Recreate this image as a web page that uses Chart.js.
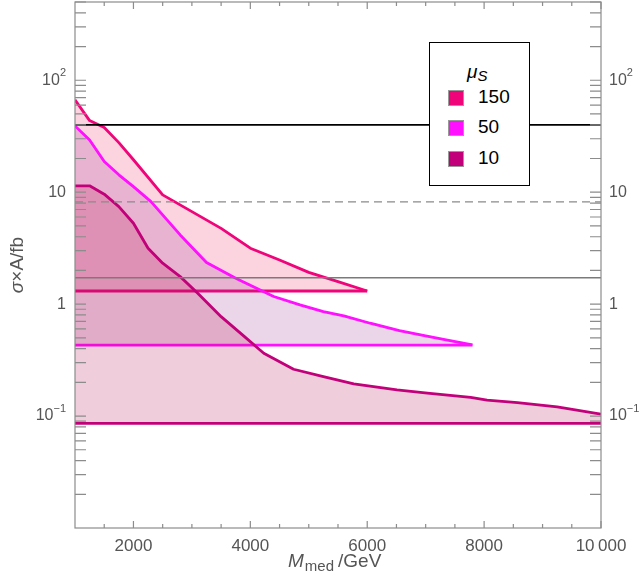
<!DOCTYPE html>
<html>
<head>
<meta charset="utf-8">
<script src="https://cdn.jsdelivr.net/npm/chart.js@4.4.1/dist/chart.umd.min.js"></script>
<style>
  body { margin: 0; background: #fff; }
  #wrap { position: relative; width: 642px; height: 584px; }
  #legend {
    position: absolute; left: 429px; top: 42px; width: 99px; height: 142px;
    border: 1.5px solid #000; background: #fff;
    font-family: "Liberation Sans", Arial, sans-serif; color: #000;
  }
  #legend .title { position: absolute; left: 37px; top: 18px; font-size: 19px; font-style: italic; }
  #legend .title sub { font-size: 15px; vertical-align: -3px; }
  #legend .row { position: absolute; left: 18px; height: 16px; }
  #legend .sw { position: absolute; left: 0; top: 0; width: 14px; height: 14px; border: 1px solid #999; }
  #legend .lab { position: absolute; left: 30px; top: -4px; font-size: 19px; line-height: 22px; }
</style>
</head>
<body>
<div id="wrap">
  <canvas id="myChart" width="642" height="584"></canvas>
  <div id="legend"><div class="title">μ<sub>S</sub></div></div>
</div>
<script>
// mu_S = 150
const mass150 = [1000, 1250, 1500, 1750, 2000, 2500, 3000, 3500, 4000, 4500, 5000, 5500, 6000];
const sigma150 = [66.8, 43.6, 37.8, 27.7, 19.5, 9.46, 6.7, 4.75, 3.16, 2.48, 1.92, 1.59, 1.31];
// mu_S = 50
const mass50 = [1000, 1250, 1500, 1750, 2000, 2300, 2800, 3250, 3750, 4400, 4850, 5250, 5600, 6050, 6550, 7000, 7350, 7800];
const sigma50 = [39.1, 29.3, 18.8, 14.3, 11.2, 8.24, 4.15, 2.35, 1.70, 1.17, 0.984, 0.857, 0.784, 0.675, 0.580, 0.520, 0.479, 0.432];
// mu_S = 10
const mass10 = [1000, 1250, 1500, 1750, 2000, 2250, 2500, 2800, 3100, 3500, 3900, 4230, 4740, 5250, 5770, 6510, 7030, 7770, 8050, 8570, 9250, 10000];
const sigma10 = [11.4, 11.4, 9.6, 7.44, 5.28, 3.16, 2.32, 1.76, 1.25, 0.773, 0.513, 0.364, 0.262, 0.225, 0.194, 0.171, 0.160, 0.147, 0.139, 0.132, 0.121, 0.104];

const seriesLabels = ['150', '50', '10'];
const baseValues = [1.31, 0.43, 0.086];     // flat lower edge of each band
const lineColors = ['#f0047a', '#ff10ff', '#c2007a'];
const fillColors = ['rgba(235,40,100,0.2)', 'rgba(155,45,140,0.2)', 'rgba(180,5,70,0.2)'];

// horizontal reference lines
const refValues = [40, 8.2, 1.72];
const refColors = ['#000000', '#8a8a8a', '#7a7a7a'];
const refDash = [[], [8, 5], []];

const xMin = 1000, xMax = 10000;
const yMin = 0.01, yMax = 500;
const xTickVals = [2000, 4000, 6000, 8000, 10000];
const xTickLabels = ['2000', '4000', '6000', '8000', '10\u2009000'];
const xMinorVals = [1500, 2500, 3000, 3500, 4500, 5000, 5500, 6500, 7000, 7500, 8500, 9000, 9500];
const yTickVals = [0.1, 1, 10, 100];
const yTickLabels = [['10', '\u22121'], ['1', ''], ['10', ''], ['10', '2']];

const yMinorVals = [];
[0.01, 0.1, 1, 10, 100].forEach(d => {
    for (let k = 2; k <= 9; k++) {
        if (d * k <= yMax) yMinorVals.push(d * k);
    }
});

function toPoints(xs, ys) {
    return xs.map((x, i) => ({ x: x, y: ys[i] }));
}

const curves = [toPoints(mass150, sigma150), toPoints(mass50, sigma50), toPoints(mass10, sigma10)];

// build datasets; index 0 is drawn last (on top)
const datasets = [];
refValues.forEach((v, i) => {
    datasets.push({
        data: [{ x: xMin, y: v }, { x: xMax, y: v }],
        borderColor: refColors[i],
        borderWidth: i === 0 ? 1.8 : 1.4,
        borderDash: refDash[i],
        fill: false
    });
});
for (let i = seriesLabels.length - 1; i >= 0; i--) {
    const pts = curves[i];
    datasets.push({
        data: [{ x: xMin, y: baseValues[i] }, { x: pts[pts.length - 1].x, y: baseValues[i] }],
        borderColor: lineColors[i],
        borderWidth: 2.8,
        fill: false
    });
    datasets.push({
        data: pts,
        borderColor: lineColors[i],
        backgroundColor: fillColors[i],
        borderWidth: 2.8,
        fill: { value: baseValues[i] }
    });
}

const font = '"Liberation Sans", Arial, sans-serif';
const labelColor = '#555';

const frameTicks = {
    id: 'frameTicks',
    afterDraw(chart) {
        const { ctx, chartArea: a, scales } = chart;
        const x = scales.x, y = scales.y;
        ctx.save();
        ctx.strokeStyle = '#8c8c8c';
        ctx.lineWidth = 1.2;
        ctx.beginPath();
        xTickVals.forEach(v => {
            const px = x.getPixelForValue(v);
            ctx.moveTo(px, a.bottom); ctx.lineTo(px, a.bottom - 7);
            ctx.moveTo(px, a.top); ctx.lineTo(px, a.top + 7);
        });
        xMinorVals.forEach(v => {
            const px = x.getPixelForValue(v);
            ctx.moveTo(px, a.bottom); ctx.lineTo(px, a.bottom - 4);
            ctx.moveTo(px, a.top); ctx.lineTo(px, a.top + 4);
        });
        yTickVals.concat(yMinorVals).forEach(v => {
            const py = y.getPixelForValue(v);
            ctx.moveTo(a.left, py); ctx.lineTo(a.left + 11, py);
            ctx.moveTo(a.right, py); ctx.lineTo(a.right - 11, py);
        });
        ctx.stroke();
        ctx.strokeRect(a.left, a.top, a.right - a.left, a.bottom - a.top);

        // y tick labels, both sides
        ctx.fillStyle = labelColor;
        ctx.textBaseline = 'middle';
        yTickVals.forEach((v, i) => {
            const py = y.getPixelForValue(v);
            const [base, ex] = yTickLabels[i];
            ctx.font = '16px ' + font;
            const wb = ctx.measureText(base).width;
            ctx.font = '11px ' + font;
            const we = ex ? ctx.measureText(ex).width : 0;
            const lx = a.left - 9 - wb - we;
            const rx = a.right + 8;
            [lx, rx].forEach(sx => {
                ctx.textAlign = 'left';
                ctx.font = '16px ' + font;
                ctx.fillText(base, sx, py);
                if (ex) {
                    ctx.font = '11px ' + font;
                    ctx.fillText(ex, sx + wb, py - 7);
                }
            });
        });

        // x axis title: M_med /GeV
        ctx.textAlign = 'left';
        ctx.textBaseline = 'alphabetic';
        ctx.font = 'italic 19px ' + font;
        ctx.fillText('M', 288, 566.5);
        const wm = ctx.measureText('M').width;
        ctx.font = '15px ' + font;
        ctx.fillText('med', 288 + wm + 1, 570.5);
        const wmed = ctx.measureText('med').width;
        ctx.font = '19px ' + font;
        ctx.fillText('/GeV', 288 + wm + wmed + 5, 566.5);

        // y axis title
        ctx.translate(18, (a.top + a.bottom) / 2);
        ctx.rotate(-Math.PI / 2);
        ctx.textBaseline = 'middle';
        ctx.font = 'italic 19px ' + font;
        const t1 = '\u03c3', t2 = '\u00d7A/fb';
        const w1 = ctx.measureText(t1).width;
        ctx.font = '19px ' + font;
        const w2 = ctx.measureText(t2).width;
        const sx = -(w1 + w2) / 2;
        ctx.font = 'italic 19px ' + font;
        ctx.fillText(t1, sx, 0);
        ctx.font = '19px ' + font;
        ctx.fillText(t2, sx + w1, 0);
        ctx.restore();
    }
};

const ctx = document.getElementById('myChart').getContext('2d');
const myChart = new Chart(ctx, {
    type: 'line',
    data: { datasets: datasets },
    options: {
        responsive: false,
        animation: false,
        layout: { padding: { top: 2, left: 0, right: 0, bottom: 0 }, autoPadding: false },
        elements: { point: { radius: 0 }, line: { tension: 0, borderJoinStyle: 'round' } },
        plugins: {
            legend: { display: false },
            tooltip: { enabled: false },
            filler: { drawTime: 'beforeDatasetDraw' }
        },
        scales: {
            x: {
                type: 'linear',
                position: 'bottom',
                min: xMin,
                max: xMax,
                grid: { display: false, drawTicks: false },
                border: { display: false },
                afterBuildTicks: scale => { scale.ticks = xTickVals.map(v => ({ value: v })); },
                afterFit: scale => { scale.height = 56; },
                ticks: {
                    padding: 8,
                    maxRotation: 0,
                    autoSkip: false,
                    color: labelColor,
                    font: { family: font, size: 17 },
                    callback: (v) => xTickLabels[xTickVals.indexOf(v)]
                }
            },
            y: {
                type: 'logarithmic',
                position: 'left',
                min: yMin,
                max: yMax,
                grid: { display: false, drawTicks: false },
                border: { display: false },
                ticks: { display: false },
                afterFit: scale => { scale.width = 75; }
            },
            y2: {
                type: 'logarithmic',
                position: 'right',
                min: yMin,
                max: yMax,
                grid: { display: false, drawTicks: false },
                border: { display: false },
                ticks: { display: false },
                afterFit: scale => { scale.width = 41; }
            }
        }
    },
    plugins: [frameTicks]
});

// legend entries
const legend = document.getElementById('legend');
const rowTops = [47, 77, 108];
seriesLabels.forEach((lab, i) => {
    const row = document.createElement('div');
    row.className = 'row';
    row.style.top = rowTops[i] + 'px';
    row.innerHTML = '<div class="sw" style="background:' + lineColors[i] + '"></div><div class="lab">' + lab + '</div>';
    legend.appendChild(row);
});
</script>
</body>
</html>
